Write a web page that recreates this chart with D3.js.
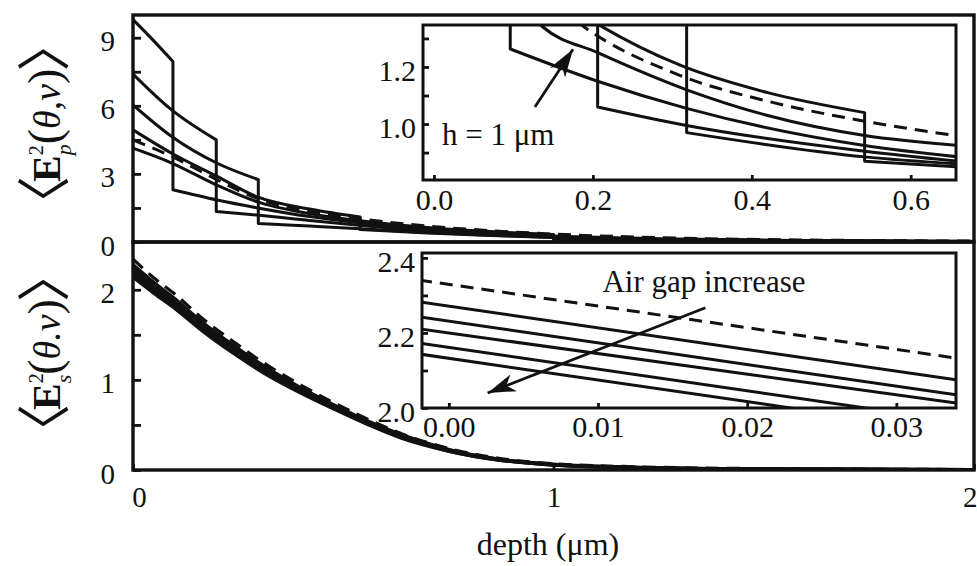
<!DOCTYPE html>
<html>
<head>
<meta charset="utf-8">
<script src="https://cdn.jsdelivr.net/npm/d3@7"></script>
<style>
  body { margin: 0; background: #fff; }
  svg text { font-family: "Liberation Serif", "Times New Roman", serif; fill: #111; }
</style>
</head>
<body>
<div id="chart"></div>
<script>
// p-polarised field, one curve per air gap h (depth um, value); a repeated depth is the jump at the gap edge
var pGap01 = [[0, 9.8], [0.05, 8.85], [0.095, 7.95], [0.095, 2.3], [0.2, 1.85], [0.3, 1.49], [0.42, 1.12], [0.55, 0.82], [0.7, 0.56], [0.85, 0.38], [1.0, 0.26], [1.25, 0.14], [1.6, 0.06], [2.0, 0.03]];
var pGap02 = [[0, 7.4], [0.092, 5.82], [0.198, 4.5], [0.198, 1.34], [0.3, 1.18], [0.42, 0.95], [0.55, 0.72], [0.7, 0.5], [0.85, 0.34], [1.0, 0.23], [1.25, 0.12], [1.6, 0.05], [2.0, 0.02]];
var pGap03 = [[0, 6.04], [0.092, 4.65], [0.199, 3.48], [0.298, 2.75], [0.298, 0.82], [0.42, 0.7], [0.55, 0.57], [0.7, 0.42], [0.85, 0.3], [1.0, 0.2], [1.25, 0.11], [1.6, 0.05], [2.0, 0.02]];
var pGap05 = [[0, 4.94], [0.092, 3.91], [0.199, 2.9], [0.294, 2.0], [0.42, 1.45], [0.54, 1.1], [0.54, 0.55], [0.7, 0.4], [0.85, 0.29], [1.0, 0.2], [1.25, 0.1], [1.6, 0.05], [2.0, 0.02]];
var pGap10 = [[0, 4.13], [0.092, 3.48], [0.199, 2.51], [0.294, 1.78], [0.42, 1.25], [0.55, 0.92], [0.7, 0.64], [0.85, 0.46], [1.0, 0.33], [1.0, 0.12], [1.25, 0.07], [1.6, 0.04], [2.0, 0.02]];
var pBare = [[0, 4.5], [0.092, 3.77], [0.199, 2.75], [0.294, 1.93], [0.42, 1.35], [0.55, 1.0], [0.7, 0.7], [0.85, 0.5], [1.0, 0.35], [1.25, 0.19], [1.6, 0.09], [2.0, 0.04]];

// zoomed inset of the p curves
var pInGap01 = [[0, 2.0], [0.096, 1.9], [0.096, 1.263], [0.206, 1.15], [0.318, 1.055], [0.542, 0.925], [0.66, 0.885]];
var pInGap02 = [[0.15, 2.0], [0.206, 1.9], [0.206, 1.06], [0.318, 0.995], [0.542, 0.905], [0.66, 0.87]];
var pInGap03 = [[0.25, 2.0], [0.318, 1.9], [0.318, 0.97], [0.542, 0.885], [0.66, 0.86]];
var pInGap05 = [[0.15, 1.45], [0.206, 1.35], [0.309, 1.207], [0.42, 1.11], [0.542, 1.04], [0.542, 0.87], [0.66, 0.85]];
var pInGap10 = [[0.1, 1.45], [0.137, 1.34], [0.206, 1.25], [0.318, 1.12], [0.42, 1.03], [0.542, 0.96], [0.66, 0.925]];
var pInBare = [[0.14, 1.45], [0.184, 1.35], [0.31, 1.17], [0.42, 1.08], [0.542, 1.01], [0.66, 0.958]];

// s-polarised field
var sDepth = [0, 0.05, 0.1, 0.16, 0.24, 0.32, 0.4, 0.48, 0.56, 0.64, 0.75, 0.87, 1.0, 1.2, 1.5, 2.0];
var sBare  = [2.34, 2.13, 1.95, 1.70, 1.42, 1.16, 0.94, 0.74, 0.56, 0.40, 0.24, 0.13, 0.07, 0.035, 0.015, 0.005];
var sGap01 = [2.28, 2.08, 1.90, 1.66, 1.38, 1.13, 0.91, 0.72, 0.54, 0.39, 0.23, 0.12, 0.065, 0.03, 0.012, 0.004];
var sGap02 = [2.24, 2.05, 1.87, 1.63, 1.36, 1.11, 0.89, 0.70, 0.53, 0.38, 0.22, 0.12, 0.06, 0.03, 0.012, 0.004];
var sGap03 = [2.21, 2.02, 1.84, 1.61, 1.34, 1.09, 0.88, 0.69, 0.52, 0.37, 0.22, 0.115, 0.06, 0.028, 0.011, 0.004];
var sGap05 = [2.17, 1.99, 1.81, 1.58, 1.31, 1.07, 0.86, 0.68, 0.51, 0.36, 0.21, 0.11, 0.055, 0.027, 0.01, 0.003];
var sGap10 = [2.14, 1.96, 1.79, 1.56, 1.29, 1.05, 0.85, 0.67, 0.50, 0.35, 0.21, 0.11, 0.055, 0.026, 0.01, 0.003];

// s inset: straight lines between the two edges
var sInDepth = [-0.002, 0.034];
var sInBare = [2.341, 2.133];
var sInGaps = [[2.283, 2.075], [2.243, 2.035], [2.211, 2.013], [2.173, 1.965], [2.144, 1.936]];

var xTicks = [0, 1, 2];
var pTicks = [0, 1.5, 3, 4.5, 6, 7.5, 9];
var sTicks = [0, 0.5, 1, 1.5, 2];
var pInXTicks = [0, 0.2, 0.4, 0.6];
var pInYTicks = [0.9, 1.0, 1.1, 1.2, 1.3];
var sInXTicks = [0, 0.01, 0.02, 0.03];
var sInYTicks = [2.0, 2.1, 2.2, 2.3, 2.4];

var width = 977, height = 566;

var svg = d3.select("#chart").append("svg")
    .attr("width", width)
    .attr("height", height);

var defs = svg.append("defs");
defs.append("marker")
    .attr("id", "head")
    .attr("markerUnits", "userSpaceOnUse")
    .attr("markerWidth", 32).attr("markerHeight", 24)
    .attr("viewBox", "-30 -12 32 24")
    .attr("refX", 0).attr("refY", 0)
    .attr("orient", "auto")
    .append("path")
    .attr("d", "M0,0 L-28,-9 L-20,0 L-28,9 Z")
    .attr("fill", "#111");

// scales
var x = d3.scaleLinear().domain([0, 2]).range([133, 974]);
var yP = d3.scaleLinear().domain([0, 10]).range([242, 15]);
var yS = d3.scaleLinear().domain([0, 2.53]).range([470, 242]);
var xPi = d3.scaleLinear().domain([-0.0138, 0.657]).range([423, 956]);
var yPi = d3.scaleLinear().domain([0.804, 1.347]).range([180, 25]);
var xSi = d3.scaleLinear().domain([-0.0018, 0.034]).range([422, 956]);
var ySi = d3.scaleLinear().domain([2.0, 2.413]).range([408, 253]);

function addClip(id, xs, ys) {
    defs.append("clipPath").attr("id", id).append("rect")
        .attr("x", xs.range()[0]).attr("y", ys.range()[1])
        .attr("width", xs.range()[1] - xs.range()[0])
        .attr("height", ys.range()[0] - ys.range()[1]);
}
addClip("cTop", x, yP);
addClip("cBot", x, yS);
addClip("cPi", xPi, yPi);
addClip("cSi", xSi, ySi);

// smooth pieces joined by straight vertical jumps
function jumpPath(pts, xs, ys) {
    var gen = d3.line().x(function (d) { return xs(d[0]); })
        .y(function (d) { return ys(d[1]); })
        .curve(d3.curveMonotoneX);
    var runs = [], cur = [pts[0]];
    for (var i = 1; i < pts.length; i++) {
        if (pts[i][0] === pts[i - 1][0]) { runs.push(cur); cur = [pts[i]]; }
        else cur.push(pts[i]);
    }
    runs.push(cur);
    return runs.map(function (r, i) {
        var s = gen(r);
        return i ? s.replace(/^M/, "L") : s;
    }).join("");
}

function drawCurve(g, pts, xs, ys, dashed, sw) {
    g.append("path")
        .attr("d", jumpPath(pts, xs, ys))
        .attr("fill", "none")
        .attr("stroke", "#111")
        .attr("stroke-width", sw || 3)
        .attr("stroke-linejoin", "round")
        .attr("stroke-dasharray", dashed ? "13,8" : null);
}

function frame(xs, ys, sw) {
    svg.append("rect")
        .attr("x", xs.range()[0]).attr("y", ys.range()[1])
        .attr("width", xs.range()[1] - xs.range()[0])
        .attr("height", ys.range()[0] - ys.range()[1])
        .attr("fill", "none").attr("stroke", "#111").attr("stroke-width", sw);
}

function styleAxis(g, size) {
    g.select(".domain").remove();
    g.selectAll(".tick line").attr("stroke", "#111").attr("stroke-width", 2.8);
    g.selectAll(".tick text").attr("font-size", size).attr("fill", "#111");
}

// ---- top panel (p)
var gTop = svg.append("g").attr("clip-path", "url(#cTop)");
[pGap01, pGap02, pGap03, pGap05, pGap10].forEach(function (c) { drawCurve(gTop, c, x, yP, false); });
drawCurve(gTop, pBare, x, yP, true);

// ---- bottom panel (s)
var gBot = svg.append("g").attr("clip-path", "url(#cBot)");
[sGap01, sGap02, sGap03, sGap05, sGap10].forEach(function (v) {
    drawCurve(gBot, sDepth.map(function (d, i) { return [d, v[i]]; }), x, yS, false, 3.2);
});
drawCurve(gBot, sDepth.map(function (d, i) { return [d, sBare[i]]; }), x, yS, true, 3.2);

frame(x, yP, 3.4);
frame(x, yS, 3.4);

var ayP = svg.append("g").attr("transform", "translate(133,0)")
    .call(d3.axisLeft(yP).tickValues(pTicks).tickSize(-8).tickPadding(18)
        .tickFormat(function (d) { return d % 3 === 0 ? d : ""; }));
styleAxis(ayP, 29);
ayP.selectAll(".tick text").attr("dy", "0.45em");

var ayS = svg.append("g").attr("transform", "translate(133,0)")
    .call(d3.axisLeft(yS).tickValues(sTicks).tickSize(-8).tickPadding(18)
        .tickFormat(function (d) { return d % 1 === 0 ? d : ""; }));
styleAxis(ayS, 29);
ayS.selectAll(".tick text").attr("dy", "0.45em");

var ax = svg.append("g").attr("transform", "translate(0,470)")
    .call(d3.axisBottom(x).tickValues(xTicks).tickSize(-6).tickPadding(16).tickFormat(d3.format("d")));
styleAxis(ax, 29);
ax.selectAll(".tick text").attr("text-anchor", function (d) { return d === 2 ? "end" : "middle"; })
    .attr("dx", function (d) { return d === 2 ? 3 : d === 0 ? 6 : 0; });

svg.append("text").attr("x", 548).attr("y", 555).attr("text-anchor", "middle")
    .attr("font-size", 32).text("depth (μm)");

// y titles, written upward from the bottom end
function yTitle(bx, by, sub, sep) {
    var t = svg.append("text").attr("transform", "translate(" + bx + "," + by + ") rotate(-90)");
    t.append("tspan").attr("font-size", 54).style("font-family", "Noto Sans CJK JP, sans-serif")
        .attr("dx", -28).attr("dy", 4).text("〈");
    t.append("tspan").attr("font-size", 40).attr("font-weight", "bold").attr("dx", -6).attr("dy", -4).text("E");
    t.append("tspan").attr("font-size", 20).attr("dy", -17).text("2");
    t.append("tspan").attr("font-size", 22).attr("font-style", "italic").attr("dx", -10).attr("dy", 28).text(sub);
    t.append("tspan").attr("font-size", 46).attr("dy", -11).text("(");
    t.append("tspan").attr("font-size", 38).attr("font-style", "italic").text("θ" + sep + "ν");
    t.append("tspan").attr("font-size", 46).text(")");
    t.append("tspan").attr("font-size", 54).style("font-family", "Noto Sans CJK JP, sans-serif")
        .attr("dx", -3).attr("dy", 4).text("〉");
}
yTitle(60, 202, "p", ",");
yTitle(60, 430, "s", ".");

// ---- inset p
svg.append("rect").attr("x", 423).attr("y", 25).attr("width", 533).attr("height", 155).attr("fill", "#fff");
var gPi = svg.append("g").attr("clip-path", "url(#cPi)");
[pInGap01, pInGap02, pInGap03, pInGap05, pInGap10].forEach(function (c) { drawCurve(gPi, c, xPi, yPi, false); });
drawCurve(gPi, pInBare, xPi, yPi, true);
frame(xPi, yPi, 3);

var aPx = svg.append("g").attr("transform", "translate(0,180)")
    .call(d3.axisBottom(xPi).tickValues(pInXTicks).tickSize(-5).tickPadding(9).tickFormat(d3.format(".1f")));
styleAxis(aPx, 30);
var aPy = svg.append("g").attr("transform", "translate(423,0)")
    .call(d3.axisLeft(yPi).tickValues(pInYTicks).tickSize(-6).tickPadding(7)
        .tickFormat(function (d) { return Math.round(d * 10) % 2 === 0 ? d3.format(".1f")(d) : ""; }));
styleAxis(aPy, 30);
aPy.selectAll(".tick text").attr("dy", "0.45em");

svg.append("line")
    .attr("x1", xPi(0.127)).attr("y1", yPi(1.06))
    .attr("x2", xPi(0.175)).attr("y2", yPi(1.262))
    .attr("stroke", "#111").attr("stroke-width", 2.8).attr("marker-end", "url(#head)");
svg.append("text").attr("x", xPi(0.01)).attr("y", yPi(0.926))
    .attr("font-size", 31).text("h = 1 μm");

// ---- inset s
svg.append("rect").attr("x", 422).attr("y", 253).attr("width", 534).attr("height", 155).attr("fill", "#fff");
var gSi = svg.append("g").attr("clip-path", "url(#cSi)");
sInGaps.forEach(function (v) {
    drawCurve(gSi, sInDepth.map(function (d, i) { return [d, v[i]]; }), xSi, ySi, false);
});
drawCurve(gSi, sInDepth.map(function (d, i) { return [d, sInBare[i]]; }), xSi, ySi, true);
frame(xSi, ySi, 3);

var aSx = svg.append("g").attr("transform", "translate(0,408)")
    .call(d3.axisBottom(xSi).tickValues(sInXTicks).tickSize(-5).tickPadding(8).tickFormat(d3.format(".2f")));
styleAxis(aSx, 30);
var aSy = svg.append("g").attr("transform", "translate(422,0)")
    .call(d3.axisLeft(ySi).tickValues(sInYTicks).tickSize(-6).tickPadding(7)
        .tickFormat(function (d) { return Math.round(d * 10) % 2 === 0 ? d3.format(".1f")(d) : ""; }));
styleAxis(aSy, 30);
aSy.selectAll(".tick text").attr("dy", "0.45em");

svg.append("text").attr("x", xSi(0.0103)).attr("y", ySi(2.309))
    .attr("font-size", 31).text("Air gap increase");
svg.append("line")
    .attr("x1", xSi(0.0172)).attr("y1", ySi(2.267))
    .attr("x2", xSi(0.0026)).attr("y2", ySi(2.04))
    .attr("stroke", "#111").attr("stroke-width", 2.8).attr("marker-end", "url(#head)");
</script>
</body>
</html>
